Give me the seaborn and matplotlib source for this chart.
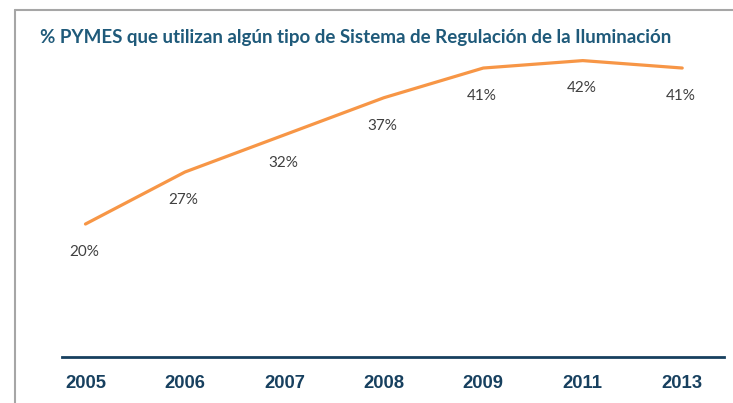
import matplotlib
matplotlib.use("Agg")
import matplotlib.pyplot as plt
import seaborn as sns
from matplotlib.lines import Line2D

years = ["2005", "2006", "2007", "2008", "2009", "2011", "2013"]
share = [20, 27, 32, 37, 41, 42, 41]
title = "% PYMES que utilizan algún tipo de Sistema de Regulación de la Iluminación"

navy = "#17405f"
orange = "#f79646"

sns.set_theme(style="white")
plt.rcParams["font.family"] = ["Lato", "DejaVu Sans"]

fig = plt.figure(figsize=(7.33, 4.03), dpi=100)
ax = fig.add_axes([62 / 733, 1 - 357 / 403, (724 - 62) / 733, (357 - 45) / 403])

sns.lineplot(x=years, y=share, ax=ax, color=orange, linewidth=2.3, sort=False)

for i, v in enumerate(share):
    ax.annotate(f"{v}%", (i, v), xytext=(-1, -20), textcoords="offset points",
                ha="center", va="center", fontsize=11, color="#404040")

ax.set_xlim(-0.236, 6.42)
ax.set_ylim(2.1, 44.1)
ax.set_yticks([])
ax.set_xlabel("")
ax.set_ylabel("")
for s in ["top", "right", "left"]:
    ax.spines[s].set_visible(False)
ax.spines["bottom"].set_color(navy)
ax.spines["bottom"].set_linewidth(2)
ax.tick_params(axis="x", length=0, pad=13)
for lab in ax.get_xticklabels():
    lab.set_fontfamily(["Liberation Sans", "DejaVu Sans"])
    lab.set_fontweight("bold")
    lab.set_fontsize(13.3)
    lab.set_color(navy)

fig.text(40 / 733, 1 - 37 / 403, title, fontsize=13.5, fontweight="bold",
         color="#1f5a7a", ha="left", va="center")

# outer frame (top and left edges)
fig.add_artist(Line2D([15 / 733, 1], [1 - 9.5 / 403] * 2, color="#a6a6a6", lw=1.5,
                      transform=fig.transFigure))
fig.add_artist(Line2D([15 / 733] * 2, [0, 1 - 9.5 / 403], color="#a6a6a6", lw=1.5,
                      transform=fig.transFigure))

fig.savefig("out.png", dpi=100, facecolor="white")
